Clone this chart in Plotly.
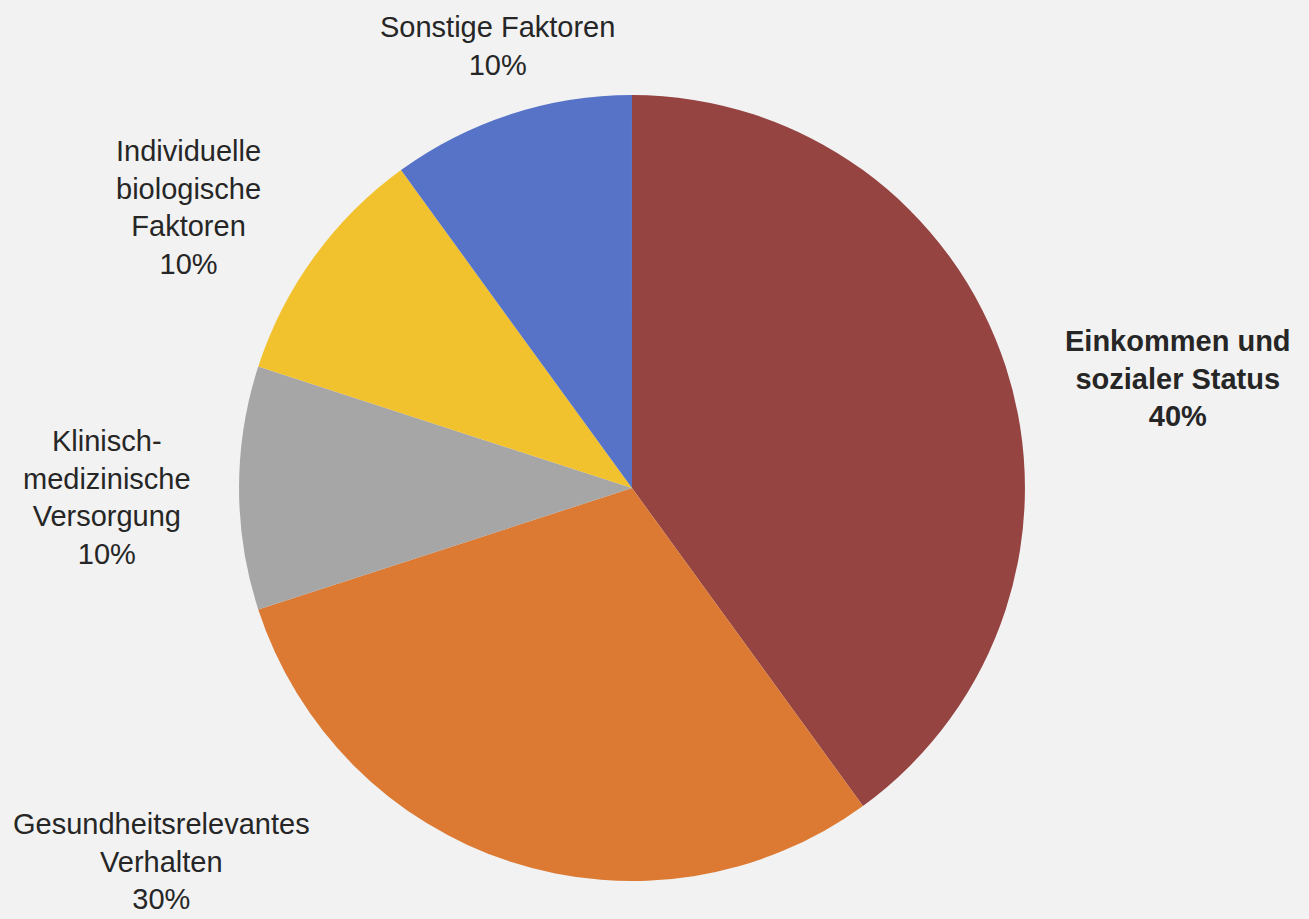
import plotly.graph_objects as go

labels = ["Einkommen und sozialer Status", "Gesundheitsrelevantes Verhalten",
          "Klinisch-medizinische Versorgung", "Individuelle biologische Faktoren",
          "Sonstige Faktoren"]
label_lines = ["Einkommen und<br>sozialer Status", "Gesundheitsrelevantes<br>Verhalten",
               "Klinisch-<br>medizinische<br>Versorgung", "Individuelle<br>biologische<br>Faktoren",
               "Sonstige Faktoren"]
values = [40, 30, 10, 10, 10]
colors = ["#954442", "#dc7a33", "#a6a6a6", "#f2c22e", "#5673c8"]
bold = [True, False, False, False, False]
# label anchor positions (paper coords)
label_x = [0.900, 0.123, 0.082, 0.144, 0.380]
label_y = [0.588, 0.063, 0.459, 0.774, 0.950]

W, H = 1309, 919
fig = go.Figure(go.Pie(
    labels=labels, values=values, sort=False, direction="clockwise", rotation=0,
    marker=dict(colors=colors, line=dict(width=0)),
    textinfo="none", hoverinfo="label+percent", showlegend=False,
    domain=dict(x=[0.1826, 0.7830], y=[0.0413, 0.8966]),
))

total = sum(values)
for lab, v, x, y, b in zip(label_lines, values, label_x, label_y, bold):
    pct = f"{round(100 * v / total)}%"
    txt = f"{lab}<br>{pct}"
    if b:
        txt = f"<b>{txt}</b>"
    fig.add_annotation(x=x, y=y, xref="paper", yref="paper", text=txt, showarrow=False,
                       xanchor="center", yanchor="middle", align="center",
                       font=dict(family="Liberation Sans, Arial, sans-serif", size=29, color="#262626"))

fig.update_layout(width=W, height=H, margin=dict(l=0, r=0, t=0, b=0),
                  paper_bgcolor="#f2f2f2", plot_bgcolor="#f2f2f2")
fig.write_html("out.html", config={"displayModeBar": False},
               post_script="document.body.style.margin='0';document.body.style.overflow='hidden';")
